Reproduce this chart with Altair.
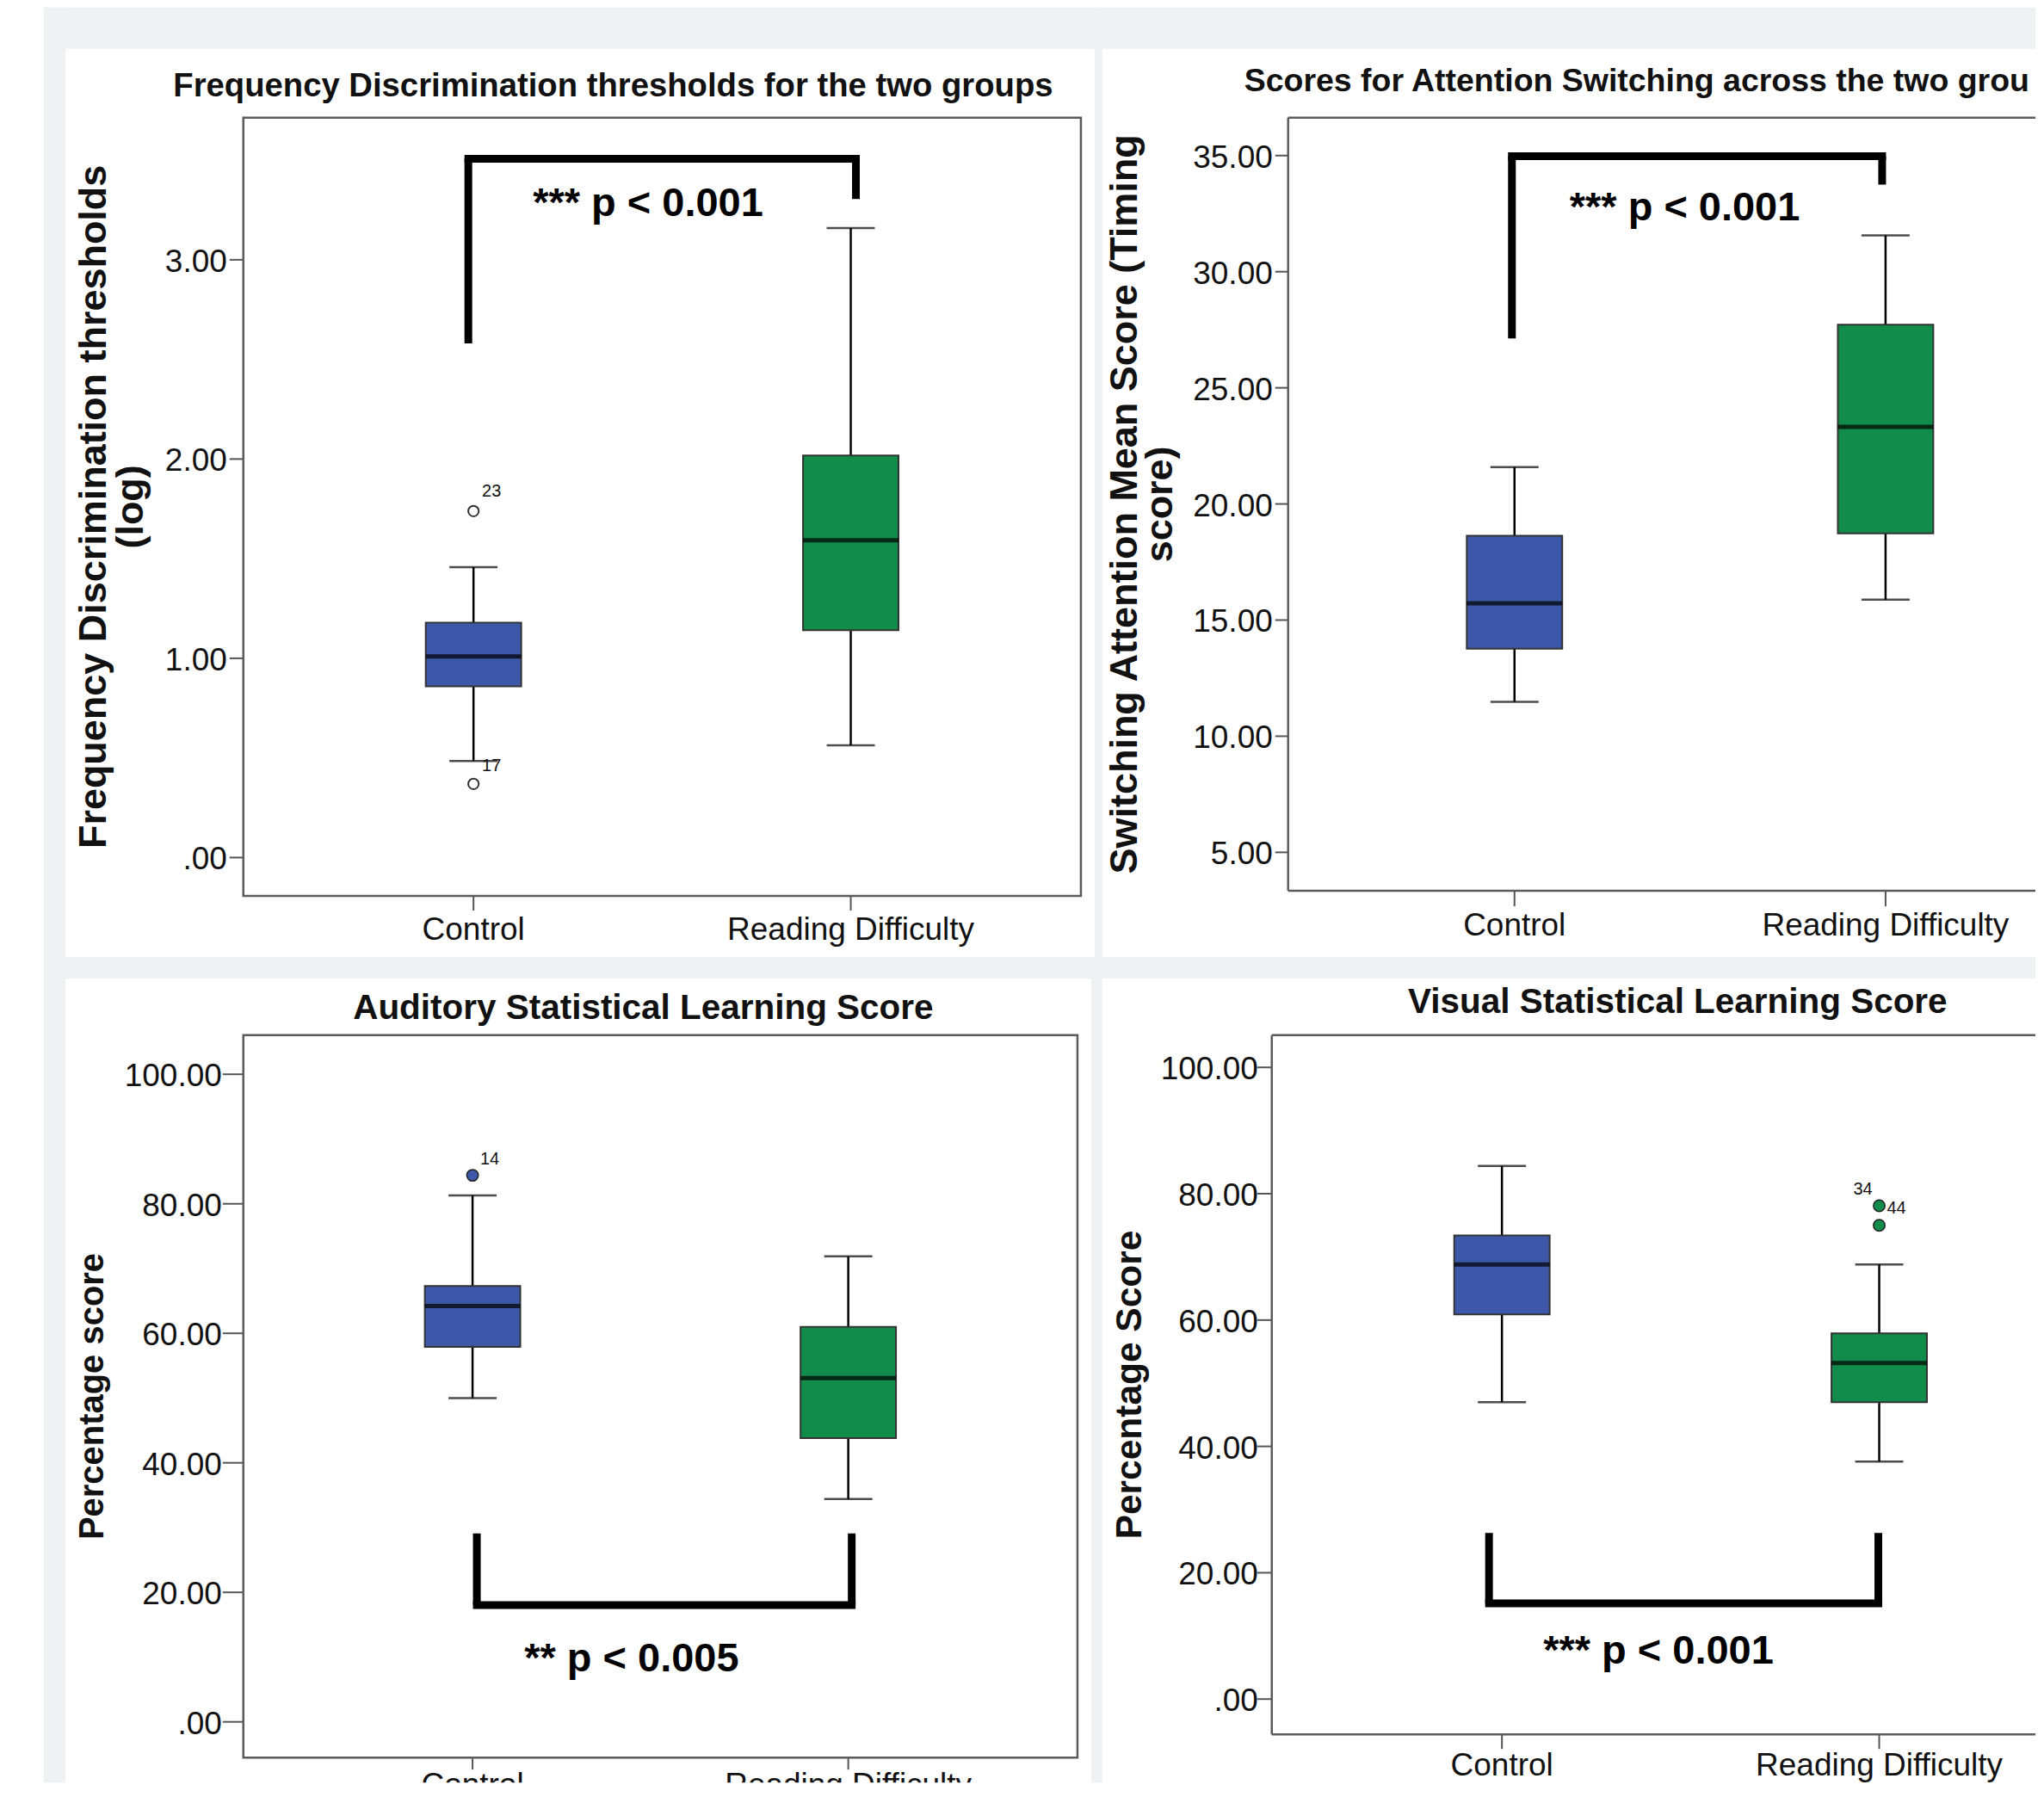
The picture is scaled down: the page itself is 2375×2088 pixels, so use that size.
import altair as alt
import pandas as pd

FONT = "Liberation Sans"
GRAY = "#f0f1f3"
INK = "#111111"
TICK = "#555555"

groups = ["Control", "Reading Difficulty"]
box_colors = ["#3e58a9", "#128c4a"]

# ---------------- Panel A: Frequency discrimination ----------------
fd_low = [0.484, 0.563]
fd_q1 = [0.859, 1.141]
fd_median = [1.009, 1.592]
fd_q3 = [1.179, 2.018]
fd_high = [1.457, 3.159]
fd_out_group = ["Control", "Control"]
fd_out_value = [1.739, 0.370]
fd_out_label = ["23", "17"]
fd_sig_legs = [2.58, 3.305]
fd_sig_bar = 3.507
fd_sig_text = "*** p < 0.001"
fd_sig_text_y = 3.218
fd_ticks = [0, 1, 2, 3]
fd_tick_labels = [".00", "1.00", "2.00", "3.00"]
fd_domain = [-0.1925, 3.713]

# ---------------- Panel B: Attention switching ----------------
as_low = [11.48, 15.88]
as_q1 = [13.77, 18.73]
as_median = [15.72, 23.32]
as_q3 = [18.63, 27.72]
as_high = [21.59, 31.56]
as_sig_legs = [27.13, 33.75]
as_sig_bar = 34.97
as_sig_text = "*** p < 0.001"
as_sig_text_y = 32.2
as_ticks = [5, 10, 15, 20, 25, 30, 35]
as_tick_labels = ["5.00", "10.00", "15.00", "20.00", "25.00", "30.00", "35.00"]
as_domain = [3.346, 36.63]

# ---------------- Panel C: Auditory statistical learning ----------------
asl_low = [50.0, 34.4]
asl_q1 = [57.9, 43.8]
asl_median = [64.2, 53.1]
asl_q3 = [67.3, 61.0]
asl_high = [81.3, 71.9]
asl_out_group = ["Control"]
asl_out_value = [84.4]
asl_out_label = ["14"]
asl_sig_legs = [29.1, 29.1]
asl_sig_bar = 18.03
asl_sig_text = "** p < 0.005"
asl_sig_text_y = 7.8
pct_ticks = [0, 20, 40, 60, 80, 100]
pct_tick_labels = [".00", "20.00", "40.00", "60.00", "80.00", "100.00"]
asl_domain = [-5.51, 106.03]

# ---------------- Panel D: Visual statistical learning ----------------
vsl_low = [47.0, 37.6]
vsl_q1 = [60.9, 47.0]
vsl_median = [68.8, 53.2]
vsl_q3 = [73.4, 57.9]
vsl_high = [84.4, 68.8]
vsl_out_group = ["Reading Difficulty", "Reading Difficulty"]
vsl_out_value = [78.1, 75.0]
vsl_out_label = ["34", "44"]
vsl_sig_legs = [26.3, 26.3]
vsl_sig_bar = 15.14
vsl_sig_text = "*** p < 0.001"
vsl_sig_text_y = 5.64
vsl_domain = [-5.58, 105.09]

one = pd.DataFrame({"k": [0]})


def deco_rect(x1, x2, y1, y2, color):
    return alt.Chart(one).mark_rect(color=color, strokeWidth=0).encode(
        x=alt.value(x1), x2=alt.value(x2), y=alt.value(y1), y2=alt.value(y2)
    )


def deco_line(x1, x2, y1, y2):
    return alt.Chart(one).mark_rule(color="#5b5b5b", strokeWidth=2.5).encode(
        x=alt.value(x1), x2=alt.value(x2), y=alt.value(y1), y2=alt.value(y2)
    )


def make_panel(p):
    W, H, fw, fh = p["W"], p["H"], p["fw"], p["fh"]
    ysc = alt.Scale(domain=p["domain"], nice=False, zero=False, range=[fh, 0])
    xsc = alt.Scale(type="point", domain=groups, padding=0.61, range=[0, fw])
    fill_scale = alt.Scale(domain=groups, range=box_colors)
    X = alt.X("group:N", scale=xsc, axis=None)
    layers = []

    # page decoration (grey gaps / white strip) that also fixes the layout
    for r in p["gray"]:
        layers.append(deco_rect(*r, GRAY))
    for r in p["white"]:
        layers.append(deco_rect(*r, "white"))

    box = pd.DataFrame({
        "group": groups, "low": p["low"], "q1": p["q1"], "median": p["median"],
        "q3": p["q3"], "high": p["high"],
    })

    # whiskers
    layers.append(
        alt.Chart(box).mark_rule(color="black", strokeWidth=2.5).encode(
            x=X, y=alt.Y("low:Q", scale=ysc, axis=None), y2="high:Q",
        )
    )
    for fld in ["low", "high"]:
        layers.append(
            alt.Chart(box).mark_tick(color="black", thickness=2.5, size=56).encode(
                x=X, y=alt.Y(f"{fld}:Q", scale=ysc, axis=None)
            )
        )
    layers.append(
        alt.Chart(box).mark_bar(size=111, stroke="#333333", strokeWidth=2).encode(
            x=X,
            y=alt.Y("q1:Q", scale=ysc, axis=None),
            y2="q3:Q",
            fill=alt.Fill("group:N", scale=fill_scale, legend=None),
        )
    )
    layers.append(
        alt.Chart(box).mark_tick(color="black", thickness=5, size=111).encode(
            x=X, y=alt.Y("median:Q", scale=ysc, axis=None)
        )
    )

    # outliers
    if p.get("out_value"):
        out = pd.DataFrame({"group": p["out_group"], "value": p["out_value"], "label": p["out_label"]})
        if p["filled"]:
            layers.append(
                alt.Chart(out).mark_point(shape="circle", size=180, filled=True, opacity=1,
                                          stroke="#222222", strokeWidth=1.5).encode(
                    x=X, y=alt.Y("value:Q", scale=ysc, axis=None),
                    fill=alt.Fill("group:N", scale=fill_scale, legend=None),
                )
            )
        else:
            layers.append(
                alt.Chart(out).mark_point(shape="circle", size=150, filled=False,
                                          color="#333333", strokeWidth=2, opacity=1).encode(
                    x=X, y=alt.Y("value:Q", scale=ysc, axis=None)
                )
            )
        for i, (dx, dy) in enumerate(p["label_off"]):
            layers.append(
                alt.Chart(out.iloc[[i]]).mark_text(font=FONT, fontSize=20, color=INK,
                                                   baseline="middle", align="center",
                                                   dx=dx, dy=dy).encode(
                    x=X, y=alt.Y("value:Q", scale=ysc, axis=None), text="label:N"
                )
            )

    # significance bracket
    sig = pd.DataFrame({
        "left": [groups[0]], "right": [groups[1]],
        "leg_l": [p["sig_legs"][0]], "leg_r": [p["sig_legs"][1]],
        "bar": [p["sig_bar"]], "ty": [p["sig_text_y"]], "txt": [p["sig_text"]],
    })
    offL, offR = p["leg_off"]
    layers.append(
        alt.Chart(sig).mark_rule(color="black", strokeWidth=9, xOffset=offL).encode(
            x=alt.X("left:N", scale=xsc, axis=None),
            y=alt.Y("leg_l:Q", scale=ysc, axis=None), y2="bar:Q",
        )
    )
    layers.append(
        alt.Chart(sig).mark_rule(color="black", strokeWidth=9, xOffset=offR).encode(
            x=alt.X("right:N", scale=xsc, axis=None),
            y=alt.Y("leg_r:Q", scale=ysc, axis=None), y2="bar:Q",
        )
    )
    layers.append(
        alt.Chart(sig).mark_rule(color="black", strokeWidth=9, strokeCap="square",
                                 xOffset=offL, x2Offset=offR).encode(
            x=alt.X("left:N", scale=xsc, axis=None), x2=alt.X2("right"),
            y=alt.Y("bar:Q", scale=ysc, axis=None),
        )
    )
    layers.append(
        alt.Chart(sig).mark_text(font=FONT, fontSize=47, fontWeight="bold", color="black",
                                 baseline="alphabetic", align="center", dx=p["text_dx"]).encode(
            x=alt.X("left:N", scale=xsc, axis=None),
            y=alt.Y("ty:Q", scale=ysc, axis=None), text="txt:N",
        )
    )

    # y axis: ticks, labels, title
    ts = p["ytick"]
    tdf = pd.DataFrame({"v": p["ticks"], "lbl": p["tick_labels"]})
    layers.append(
        alt.Chart(tdf).mark_rule(color=TICK, strokeWidth=2).encode(
            y=alt.Y("v:Q", scale=ysc, axis=None), x=alt.value(-ts), x2=alt.value(0)
        )
    )
    layers.append(
        alt.Chart(tdf).mark_text(font=FONT, fontSize=37, color=INK, align="right",
                                 baseline="middle", dy=3).encode(
            y=alt.Y("v:Q", scale=ysc, axis=None), x=alt.value(-ts - p["ylabpad"]), text="lbl:N"
        )
    )
    ytdf = pd.DataFrame({"t": [p["ytitle"]]})
    layers.append(
        alt.Chart(ytdf).mark_text(font=FONT, fontSize=p["ytsize"], fontWeight="bold", color=INK,
                                  angle=270, align="center", baseline="top", lineBreak="\n",
                                  lineHeight=p["ytlh"]).encode(
            x=alt.value(-(p["ytdist"] + 0.79 * p["ytsize"])), y=alt.value(fh / 2), text="t:N"
        )
    )

    # x axis: ticks and category labels
    gdf = pd.DataFrame({"group": groups})
    layers.append(
        alt.Chart(gdf).mark_rule(color=TICK, strokeWidth=2).encode(
            x=X, y=alt.value(fh), y2=alt.value(fh + p["xtick"])
        )
    )
    layers.append(
        alt.Chart(gdf).mark_text(font=FONT, fontSize=37, color=INK, baseline="top",
                                 align="center", clip=p["clip_x"]).encode(
            x=X, y=alt.value(fh + p["xlab"]), text="group:N"
        )
    )

    # frame
    if p["open_right"]:
        layers.append(deco_line(0, W, 0, 0))
        layers.append(deco_line(0, W, fh, fh))
        layers.append(deco_line(0, 0, 0, fh))
    else:
        layers.append(
            alt.Chart(one).mark_rect(fill="white", fillOpacity=0, stroke="#5b5b5b",
                                     strokeWidth=2.5).encode(
                x=alt.value(0), x2=alt.value(fw), y=alt.value(0), y2=alt.value(fh)
            )
        )

    # panel title
    tx, ty, talign, tsize = p["title_pos"]
    ttl = pd.DataFrame({"t": [p["title"]]})
    layers.append(
        alt.Chart(ttl).mark_text(font=FONT, fontSize=tsize, fontWeight="bold", color=INK,
                                 baseline="alphabetic", align=talign).encode(
            x=alt.value(tx), y=alt.value(ty), text="t:N"
        )
    )

    return alt.layer(*layers).properties(width=W, height=H)


# panel origins (plot area top-left) on the page: A (283,136), B (1498,136),
# C (283,1203), D (1479,1203); chart spans page x 8..2367, y 8..2072
pA = make_panel(dict(
    W=974, H=905, fw=974, fh=905, domain=fd_domain, ticks=fd_ticks, tick_labels=fd_tick_labels,
    low=fd_low, q1=fd_q1, median=fd_median, q3=fd_q3, high=fd_high,
    out_group=fd_out_group, out_value=fd_out_value, out_label=fd_out_label,
    filled=False, label_off=[(21, -23), (21, -21)],
    sig_legs=fd_sig_legs, sig_bar=fd_sig_bar, sig_text=fd_sig_text, sig_text_y=fd_sig_text_y,
    leg_off=(-6, 6), text_dx=203,
    ytitle="Frequency Discrimination thresholds\n(log)", ytsize=45, ytdist=160, ytlh=43,
    ytick=16, ylabpad=3, xtick=17, xlab=22, clip_x=False, open_right=False,
    title="Frequency Discrimination thresholds for the two groups",
    title_pos=(430, -25, "center", 38.3),
    gray=[(-232, 999, -128, -80), (-232, -207, -128, 1001), (990, 999, -128, 1001),
          (-232, 999, 976, 1001)],
    white=[(-275, -232, -128, 1001)],
))

pB = make_panel(dict(
    W=869, H=899, fw=958, fh=899, domain=as_domain, ticks=as_ticks, tick_labels=as_tick_labels,
    low=as_low, q1=as_q1, median=as_median, q3=as_q3, high=as_high,
    sig_legs=as_sig_legs, sig_bar=as_sig_bar, sig_text=as_sig_text, sig_text_y=as_sig_text_y,
    leg_off=(-3, -4), text_dx=198,
    ytitle="Switching Attention Mean Score (Timing\nscore)", ytsize=45, ytdist=176, ytlh=41,
    ytick=15, ylabpad=3, xtick=18, xlab=23, clip_x=False, open_right=True,
    title="Scores for Attention Switching across the two grou",
    title_pos=(-51, -31, "left", 37.5),
    gray=[(-216, 869, -128, -80), (-216, 869, 976, 1001)],
    white=[],
))

pC = make_panel(dict(
    W=970, H=869, fw=970, fh=840, domain=asl_domain, ticks=pct_ticks, tick_labels=pct_tick_labels,
    low=asl_low, q1=asl_q1, median=asl_median, q3=asl_q3, high=asl_high,
    out_group=asl_out_group, out_value=asl_out_value, out_label=asl_out_label,
    filled=True, label_off=[(20, -19)],
    sig_legs=asl_sig_legs, sig_bar=asl_sig_bar, sig_text=asl_sig_text, sig_text_y=asl_sig_text_y,
    leg_off=(5, 4), text_dx=185,
    ytitle="Percentage score", ytsize=40, ytdist=163, ytlh=42,
    ytick=24, ylabpad=1, xtick=14, xlab=15, clip_x=True, open_right=False,
    title="Auditory Statistical Learning Score",
    title_pos=(465, -19, "center", 40.5),
    gray=[(-232, -207, -66, 869), (986, 999, -66, 869)],
    white=[(-275, -232, -66, 869)],
))

pD = make_panel(dict(
    W=888, H=869, fw=974, fh=813, domain=vsl_domain, ticks=pct_ticks, tick_labels=pct_tick_labels,
    low=vsl_low, q1=vsl_q1, median=vsl_median, q3=vsl_q3, high=vsl_high,
    out_group=vsl_out_group, out_value=vsl_out_value, out_label=vsl_out_label,
    filled=True, label_off=[(-19, -19), (20, -20)],
    sig_legs=vsl_sig_legs, sig_bar=vsl_sig_bar, sig_text=vsl_sig_text, sig_text_y=vsl_sig_text_y,
    leg_off=(-15, -1), text_dx=182,
    ytitle="Percentage Score", ytsize=42.5, ytdist=152, ytlh=42,
    ytick=17, ylabpad=-1, xtick=17, xlab=19, clip_x=True, open_right=True,
    title="Visual Statistical Learning Score",
    title_pos=(472, -26, "center", 40.5),
    gray=[],
    white=[(-197, -190, -66, 869), (881, 888, -66, 869)],
))

row1 = alt.concat(pA, pB, columns=2, spacing=0, align="each")
row2 = alt.concat(pC, pD, columns=2, spacing=0, align="each")

chart = (
    alt.concat(row1, row2, columns=1, spacing=0, align="each")
    .properties(background="white", padding=0)
    .configure_view(strokeWidth=0)
)

chart.save("out.html", embed_options={"renderer": "svg", "actions": False})
